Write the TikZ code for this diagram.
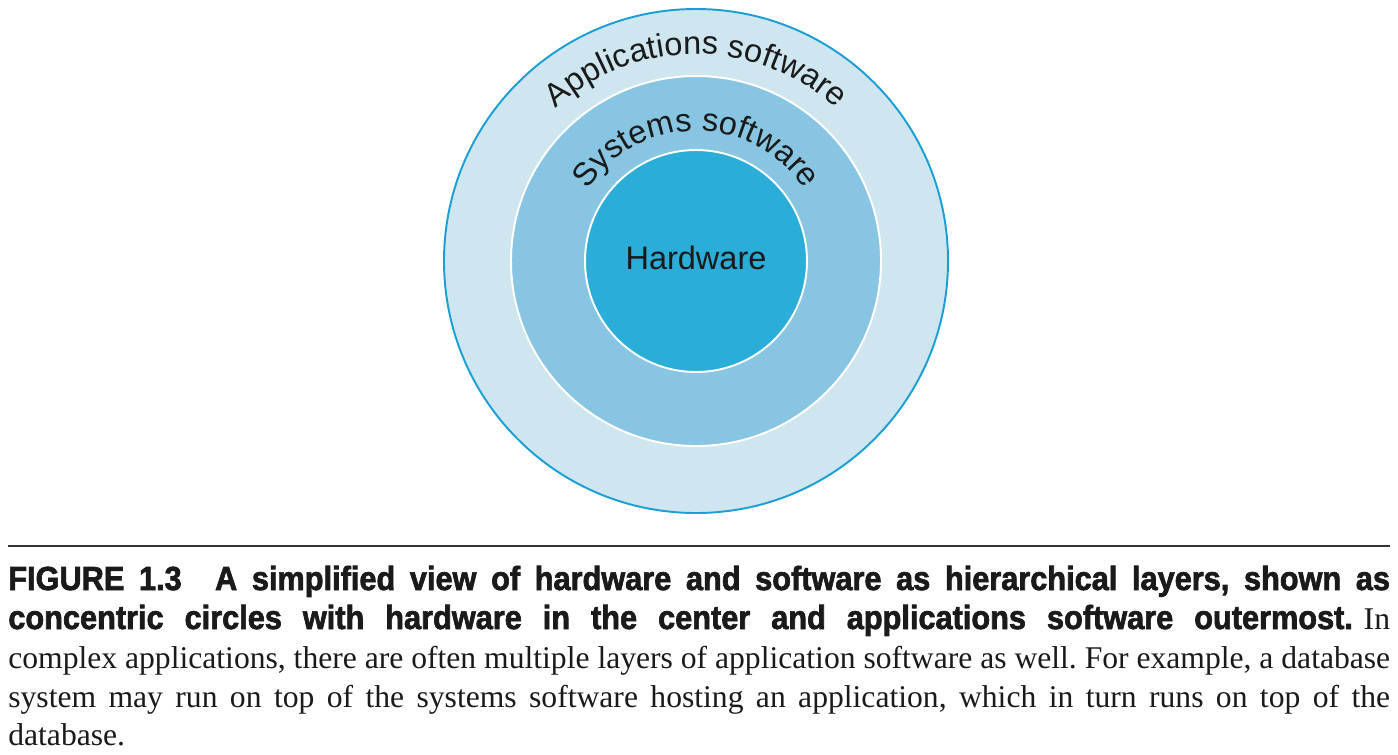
\documentclass[tikz,border=0pt]{standalone}
\usepackage{fontspec}
\setmainfont{Liberation Serif}
\newfontfamily\labelfont{Liberation Sans}
\newfontfamily\capfont{Liberation Sans}[BoldFeatures={FakeStretch=0.92,FakeBold=2}]
\usetikzlibrary{calc, decorations.text}
\frenchspacing

\definecolor{ringblue}{HTML}{1A9FD5}
\definecolor{appfill}{HTML}{CFE6F0}
\definecolor{sysfill}{HTML}{87C5E2}
\definecolor{hwfill}{HTML}{2AADD8}
\definecolor{rulegray}{HTML}{333333}
\definecolor{inkblack}{HTML}{1A1A1A}

\begin{document}
\begin{tikzpicture}[x=0.02cm, y=0.02cm,
  arclabel/.style={decorate, decoration={text along path, text align=center,
    text={|\labelfont\fontsize{18.5}{22}\selectfont\color{inkblack}|#1}}},
  capline/.style={anchor=base west, inner sep=0pt, text=inkblack}]
  \useasboundingbox (0,0) rectangle (1398,-754);
  % the three layers
  \coordinate (ctr) at (696,-261);
  \draw[ringblue, line width=1.1pt, fill=appfill] (ctr) circle[radius=252];
  \draw[white, line width=1.1pt, fill=sysfill] (ctr) circle[radius=185];
  \draw[white, line width=1.1pt, fill=hwfill] (ctr) circle[radius=111];
  % labels on the rings
  \path[arclabel=Applications software] ($(ctr)+(-207,0)$) arc[start angle=180, end angle=0, radius=207];
  \path[arclabel=Systems software] ($(ctr)+(-130,0)$) arc[start angle=180, end angle=0, radius=130];
  \node[font=\labelfont\fontsize{18.5}{22}\selectfont, text=inkblack] (hw) at (696,-258) {Hardware};
  % caption
  \coordinate (rulel) at (8,-546);
  \coordinate (ruler) at (1390,-546);
  \draw[rulegray, line width=1.2pt] (rulel) -- (ruler);
  \node[capline] (cap1) at (8,-590) {\makebox[27.64cm][s]{\capfont\bfseries\fontsize{19}{22}\selectfont FIGURE 1.3\quad A simplified view of hardware and software as hierarchical layers, shown as}};
  \node[capline] (cap2) at (8,-629) {\makebox[27.64cm][s]{{\capfont\bfseries\fontsize{19}{22}\selectfont concentric circles with hardware in the center and applications software outermost.} \fontsize{18}{22}\selectfont In}};
  \node[capline, font=\fontsize{18}{22}\selectfont] (cap3) at (8,-668) {\makebox[27.64cm][s]{complex applications, there are often multiple layers of application software as well. For example, a database}};
  \node[capline, font=\fontsize{18}{22}\selectfont] (cap4) at (8,-707) {\makebox[27.64cm][s]{system may run on top of the systems software hosting an application, which in turn runs on top of the}};
  \node[capline, font=\fontsize{18}{22}\selectfont] (cap5) at (8,-745) {database.};
\end{tikzpicture}
\end{document}
